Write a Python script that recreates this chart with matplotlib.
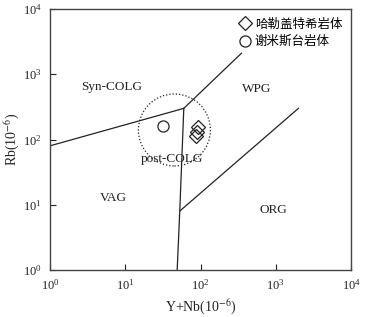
import matplotlib
matplotlib.use("Agg")
import matplotlib.pyplot as plt
from matplotlib.patches import Circle
from matplotlib.transforms import ScaledTranslation

plt.rcParams['font.family'] = ['Liberation Serif', 'Noto Sans CJK SC']
plt.rcParams['mathtext.fontset'] = 'stix'

# boundary lines (Y+Nb, Rb)
syn_vag_x = [1, 60]
syn_vag_y = [80, 300]
syn_wpg_x = [60, 350]
syn_wpg_y = [300, 2100]
vag_wpg_x = [60, 53, 49]
vag_wpg_y = [300, 8, 1]
org_wpg_x = [53, 2000]
org_wpg_y = [8, 300]

# samples
hl_x = [93, 89, 86]
hl_y = [157, 132, 113]
xm_x = [32]
xm_y = [161]

field_names = ["Syn-COLG", "WPG", "post-COLG", "VAG", "ORG"]
field_x = [6.6, 560, 42, 7.0, 930]
field_y = [630, 600, 50, 12.5, 8.3]

ticks = [1, 10, 100, 1000, 10000]
tick_labels = [r'$\mathregular{10^{%d}}$' % i for i in range(5)]

fig = plt.figure(figsize=(3.66, 3.17), dpi=100)
ax = fig.add_axes([50/366, 47/317, 301/366, 261/317])
ax.set_xscale('log')
ax.set_yscale('log')
ax.set_xlim(1, 10000)
ax.set_ylim(1, 10000)

lc = '#222222'
ax.plot(syn_vag_x, syn_vag_y, color=lc, lw=0.9)
ax.plot(syn_wpg_x, syn_wpg_y, color=lc, lw=0.9)
ax.plot(vag_wpg_x, vag_wpg_y, color=lc, lw=0.9)
ax.plot(org_wpg_x, org_wpg_y, color=lc, lw=0.9)

# dotted post-COLG circle, round on screen
tr = fig.dpi_scale_trans + ScaledTranslation(45, 140, ax.transData)
ax.add_patch(Circle((0, 0), 0.36, transform=tr, fill=False, ls=(0, (1, 1.6)),
                    lw=0.9, color=lc))

ax.plot(hl_x, hl_y, 'D', ms=7, mfc='none', mec=lc, mew=0.9, ls='none',
        label='哈勒盖特希岩体')
ax.plot(xm_x, xm_y, 'o', ms=8, mfc='none', mec=lc, mew=0.9, ls='none',
        label='谢米斯台岩体')

for name, x, y in zip(field_names, field_x, field_y):
    ax.text(x, y, name, fontsize=9.5, ha='center', va='center', color=lc)

ax.set_xticks(ticks)
ax.set_xticklabels(tick_labels)
ax.set_yticks(ticks)
ax.set_yticklabels(tick_labels)
ax.minorticks_off()
ax.tick_params(direction='in', length=4, width=0.8, labelsize=9, colors=lc, pad=6)
for s in ax.spines.values():
    s.set_color('#444444')
    s.set_linewidth(1.0)

ax.set_xlabel(r'Y+Nb(10$^{-6}$)', fontsize=10, color=lc, labelpad=4)
ax.set_ylabel(r'Rb(10$^{-6}$)', fontsize=10, color=lc)
ax.yaxis.set_label_coords(-0.093, 0.5)

ax.legend(loc='upper right', frameon=False, prop={'family': 'Noto Sans CJK SC', 'size': 9},
          handletextpad=0.3, borderaxespad=0.3, labelspacing=0.35, handlelength=1.0)

fig.savefig('out.png', dpi=100)
